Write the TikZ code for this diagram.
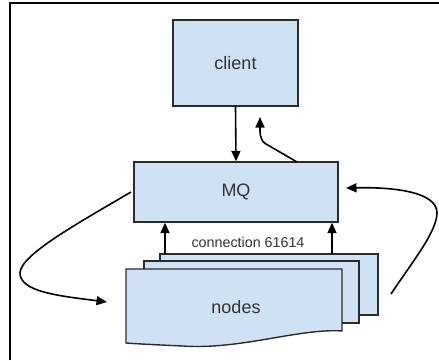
\documentclass[tikz,border=0pt]{standalone}
\usepackage{fontspec}
\setmainfont{Liberation Sans}
\usetikzlibrary{arrows.meta}
\definecolor{boxfill}{HTML}{CFE2F3}
\definecolor{boxline}{HTML}{2B2B2B}
\definecolor{txt}{HTML}{333333}
\begin{document}
\begin{tikzpicture}[x=1pt,y=-1pt,
  box/.style={draw=boxline,fill=boxfill,line width=1.4pt,inner sep=0pt},
  lbl/.style={text=txt,font=\fontsize{18}{20}\selectfont},
  conn/.style={draw=black,line width=1.6pt,-{Triangle[length=10.5pt,width=9pt]}},
  ]
\useasboundingbox (0,0) rectangle (439,360);
% frame
\draw[line width=1.4pt] (10,360) -- (10,3) -- (439,3);
% client and MQ
\node[box,minimum width=125pt,minimum height=86pt] (client) at (235.5,63) {};
\node[lbl] at (client.center) {client};
\node[box,minimum width=204pt,minimum height=60pt] (mq) at (236,192) {};
\node[lbl] at (mq.center) {MQ};
% node stack
\draw[box] (160,254) rectangle (378,315);
\draw[box] (144,261) rectangle (359,323);
\draw[box] (126,269) -- (342,269) -- (342,331)
  .. controls (300,328) and (240,350) .. (183,346)
  .. controls (160,345) and (140,344) .. (126,343) -- cycle;
\node[lbl] (nodes) at (236,307) {nodes};
\coordinate (n1) at (165,254);
\coordinate (n2) at (332,254);
% connectors
\draw[conn] (client.south) -- (mq.north);
\coordinate (r0) at (297,162);
\draw[conn] (r0) -- (266,144) .. controls (259,140) and (260,131) .. (260,117);
\draw[conn] (n1) -- (n1 |- mq.south);
\draw[conn] (n2) -- (n2 |- mq.south);
\node[text=txt,font=\fontsize{14.3}{16}\selectfont] (cl) at (248,242) {connection 61614};
\coordinate (l0) at (131,192);
\draw[conn] (l0) .. controls (80,222) and (20,255) .. (20,273)
  .. controls (20,292) and (60,296) .. (107,302);
\coordinate (r1) at (391,294);
\draw[conn] (r1) .. controls (410,265) and (437,232) .. (437,213)
  .. controls (437,192) and (395,187) .. (346,188);
\end{tikzpicture}
\end{document}
